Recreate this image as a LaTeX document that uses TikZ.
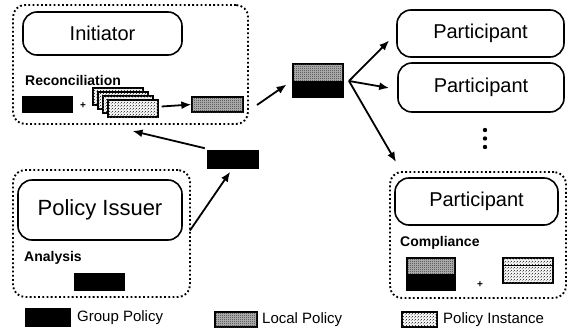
\documentclass[tikz,border=0pt]{standalone}
\usepackage{fontspec}
\setmainfont{Liberation Sans}
\usetikzlibrary{arrows.meta,calc,patterns}
\pgfdeclarepatternformonly{fcheck}{\pgfqpoint{0pt}{0pt}}{\pgfqpoint{2pt}{2pt}}{\pgfqpoint{2pt}{2pt}}{%
  \pgfpathrectangle{\pgfqpoint{0pt}{0pt}}{\pgfqpoint{1pt}{1pt}}%
  \pgfpathrectangle{\pgfqpoint{1pt}{1pt}}{\pgfqpoint{1pt}{1pt}}%
  \pgfusepath{fill}}
\pgfdeclarepatternformonly{fdots}{\pgfqpoint{0pt}{0pt}}{\pgfqpoint{3pt}{3pt}}{\pgfqpoint{3pt}{3pt}}{%
  \pgfpathrectangle{\pgfqpoint{0pt}{0pt}}{\pgfqpoint{0.8pt}{0.8pt}}%
  \pgfpathrectangle{\pgfqpoint{1.5pt}{1.5pt}}{\pgfqpoint{0.8pt}{0.8pt}}%
  \pgfusepath{fill}}
\tikzset{
  actor/.style={draw, line width=1.6pt, rounded corners=14pt, inner sep=0pt, font=\fontsize{20}{24}\selectfont},
  region/.style={draw, line width=1.9pt, dash pattern=on 1.8pt off 2.4pt, rounded corners=12pt, inner sep=0pt},
  lab/.style={anchor=west, inner sep=0pt, font=\bfseries\fontsize{14}{16}\selectfont},
  gpol/.style={fill=black, draw=black, line width=0.8pt, inner sep=0pt},
  lpol/.style={draw=black, line width=1.3pt, fill=gray!55, postaction={pattern=fcheck, pattern color=black!80}, inner sep=0pt},
  ipol/.style={draw=black, line width=1.3pt, fill=gray!12, postaction={pattern=fdots, pattern color=black!75}, inner sep=0pt},
  arr/.style={line width=1.8pt, -{Latex[length=10pt,width=8pt]}},
  leg/.style={anchor=west, inner sep=0pt, font=\fontsize{15}{18}\selectfont},
  plus/.style={inner sep=0pt, font=\bfseries\fontsize{10}{11}\selectfont}
}
\begin{document}
\begin{tikzpicture}[x=1pt,y=-1pt]
\useasboundingbox (0,0) rectangle (568,335);
% Initiator region
\node[region, minimum width=235pt, minimum height=119pt] (ibox) at (130.5,64.5) {};
\node[actor, minimum width=159pt, minimum height=43pt] (init) at (102.5,33.5) {Initiator};
\node[lab] (recon) at (25,80) {Reconciliation};
\node[gpol, minimum width=50pt, minimum height=16pt] (gp1) at (47,104) {};
\node[plus] (plus1) at (83,106) {+};
\node[ipol, minimum width=50pt, minimum height=17pt] (s1) at (118,96.5) {};
\node[ipol, minimum width=50pt, minimum height=17pt] (s2) at (123,100.5) {};
\node[ipol, minimum width=50pt, minimum height=17pt] (s3) at (128,104.5) {};
\node[ipol, minimum width=50pt, minimum height=17pt] (s4) at (133,108.5) {};
\node[lpol, minimum width=51pt, minimum height=15pt] (lp1) at (217.5,104.5) {};
\draw[arr] ($(s4.east)+(3,-2)$) -- (lp1.west);
% composite policy
\node[lpol, minimum width=50pt, minimum height=33pt] (cp) at (318,80.5) {};
\fill[black] (cp.west) rectangle (cp.south east);
\draw[line width=1.3pt] (cp.north west) rectangle (cp.south east);
\coordinate (a1) at (257,105);
\draw[arr, shorten >=7pt] (a1) -- (cp.west);
% Participants
\node[actor, minimum width=167pt, minimum height=47pt] (p1) at (480.5,33.5) {Participant};
\node[actor, minimum width=166pt, minimum height=49pt] (p2) at (481,87.5) {Participant};
\node[region, minimum width=176pt, minimum height=126pt] (pbox) at (478,235) {};
\node[actor, minimum width=163pt, minimum height=47pt] (p3) at (476.5,201.5) {Participant};
\coordinate (fork) at (349,81);
\draw[arr] (fork) -- ($(p1.west)+(-7,7)$);
\draw[arr] (fork) -- ($(p2.west)+(-8,0.5)$);
\draw[arr] (fork) -- ($(pbox.north west)+(7,-9)$);
\foreach \yy in {130,138.5,147} \fill (485,\yy) circle (2.2pt);
\node[lab] (comp) at (400,243) {Compliance};
\node[lpol, minimum width=48pt, minimum height=32pt] (cp2) at (431,274) {};
\fill[black] (cp2.west) rectangle (cp2.south east);
\draw[line width=1.3pt] (cp2.north west) rectangle (cp2.south east);
\node[plus] (plus2) at (480,285) {+};
\node[ipol, minimum width=50pt, minimum height=25pt] (pi2) at (528,270.5) {};
\draw[line width=1.3pt] ($(pi2.north west)+(0,8)$) -- ($(pi2.north east)+(0,8)$);
% Policy issuer
\node[region, minimum width=177pt, minimum height=127pt] (sbox) at (101.5,233.5) {};
\node[actor, minimum width=164pt, minimum height=60pt, font=\fontsize{22}{26}\selectfont] (issuer) at (100,210) {Policy Issuer};
\node[lab] (anal) at (24,258) {Analysis};
\node[gpol, minimum width=50pt, minimum height=17pt] (gp3) at (99,281.5) {};
\node[gpol, minimum width=51pt, minimum height=18pt] (gp2) at (232.5,159) {};
\draw[arr, shorten >=4pt] ($(sbox.east)+(-1,-3)$) -- (gp2.south);
\draw[arr, shorten <=6pt] ($(gp2.north west)+(4,0)$) -- ($(ibox.south)+(2,6)$);
% Legend
\node[gpol, minimum width=45pt, minimum height=18pt] (lg1) at (47.5,317) {};
\node[leg] (lt1) at (77,318) {Group Policy};
\node[lpol, minimum width=42pt, minimum height=15pt] (lg2) at (236,319.5) {};
\node[leg] (lt2) at (262,320) {Local Policy};
\node[ipol, minimum width=35pt, minimum height=15pt] (lg3) at (419.5,319.5) {};
\node[leg] (lt3) at (443,320) {Policy Instance};
\end{tikzpicture}
\end{document}
